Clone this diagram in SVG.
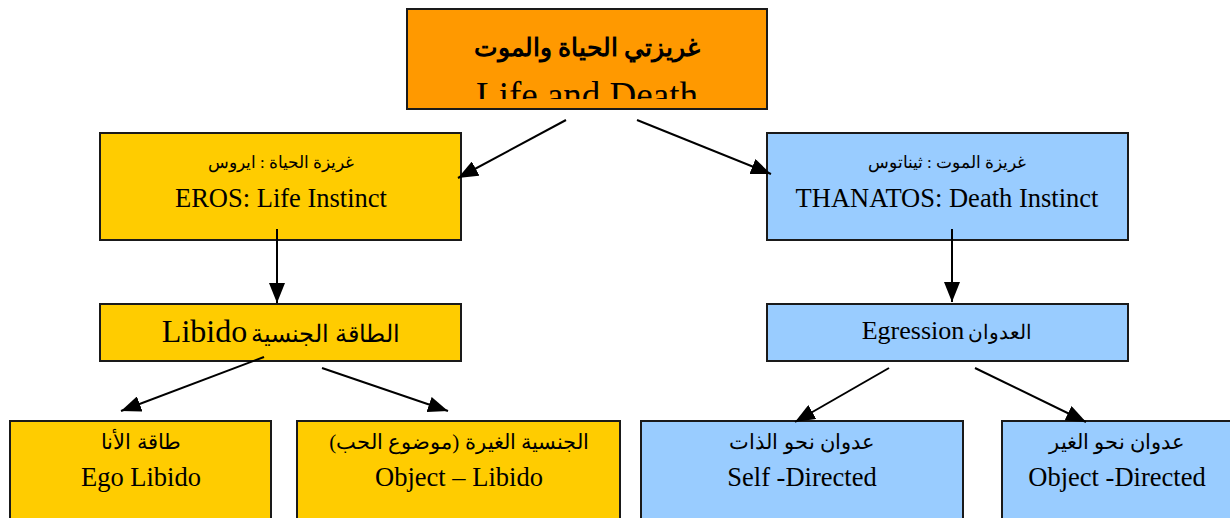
<svg xmlns="http://www.w3.org/2000/svg" width="1230" height="518" viewBox="0 0 1230 518">
<style>
.box{stroke:#1a1a1a;stroke-width:2}
.o{fill:#FF9900}
.y{fill:#FFCC00}
.b{fill:#99CCFF}
text{font-family:"Liberation Serif","DejaVu Serif","Noto Sans",serif;fill:#000;text-anchor:middle}
.ar{font-size:17px}
.ar2{font-size:21px}
.en{font-size:26.5px}
.con line{stroke:#000;stroke-width:2;marker-end:url(#ah)}
</style>
<defs>
<marker id="ah" viewBox="0 0 20 16" refX="20" refY="8" markerWidth="20" markerHeight="16" markerUnits="userSpaceOnUse" orient="auto">
<path d="M0,0 L20,8 L0,16 z" fill="#000"/>
</marker>
<clipPath id="topclip"><rect x="408" y="10" width="358" height="89"/></clipPath>
</defs>
<rect width="1230" height="518" fill="#fff"/>
<g id="top">
<rect class="box o" x="407" y="9" width="360" height="100"/>
<g clip-path="url(#topclip)">
<text x="587" y="56" style="font-size:25px;font-weight:bold">غريزتي الحياة والموت</text>
<text x="587" y="108" style="font-size:37px">Life and Death</text>
</g>
</g>
<g id="eros">
<rect class="box y" x="100" y="133" width="361" height="107"/>
<text class="ar" x="281" y="168">غريزة الحياة : ايروس</text>
<text class="en" x="281" y="207">EROS: Life Instinct</text>
</g>
<g id="thanatos">
<rect class="box b" x="767" y="133" width="361" height="107"/>
<text class="ar" x="947" y="168">غريزة الموت : ثيناتوس</text>
<text class="en" x="947" y="207">THANATOS: Death Instinct</text>
</g>
<g id="libido">
<rect class="box y" x="100" y="304" width="361" height="57"/>
<text x="281" y="342" direction="rtl"><tspan style="font-size:24px">الطاقة الجنسية</tspan> <tspan style="font-size:32px">Libido</tspan></text>
</g>
<g id="egression">
<rect class="box b" x="767" y="304" width="361" height="57"/>
<text x="947" y="339" direction="rtl"><tspan style="font-size:20px">العدوان</tspan> <tspan style="font-size:26px">Egression</tspan></text>
</g>
<g id="ego">
<rect class="box y" x="10" y="421" width="261" height="110"/>
<text class="ar2" x="141" y="449">طاقة الأنا</text>
<text class="en" x="141" y="486">Ego Libido</text>
</g>
<g id="objlibido">
<rect class="box y" x="297" y="421" width="323" height="110"/>
<text class="ar2" x="459" y="449">الجنسية الغيرة (موضوع الحب)</text>
<text class="en" x="459" y="486">Object – Libido</text>
</g>
<g id="self">
<rect class="box b" x="641" y="421" width="322" height="110"/>
<text class="ar2" x="802" y="449">عدوان نحو الذات</text>
<text class="en" x="802" y="486">Self -Directed</text>
</g>
<g id="objdir">
<rect class="box b" x="1002" y="421" width="240" height="110"/>
<text class="ar2" x="1117" y="449">عدوان نحو الغير</text>
<text class="en" x="1117" y="486">Object -Directed</text>
</g>
<g id="connectors" class="con">
<line x1="566" y1="120" x2="458" y2="178"/>
<line x1="637" y1="120" x2="771" y2="174"/>
<line x1="277" y1="229" x2="277" y2="303"/>
<line x1="952" y1="229" x2="952" y2="302"/>
<line x1="264" y1="357" x2="121" y2="411"/>
<line x1="322" y1="368" x2="448" y2="411"/>
<line x1="889" y1="368" x2="795" y2="422"/>
<line x1="975" y1="368" x2="1086" y2="422"/>
</g>
</svg>
